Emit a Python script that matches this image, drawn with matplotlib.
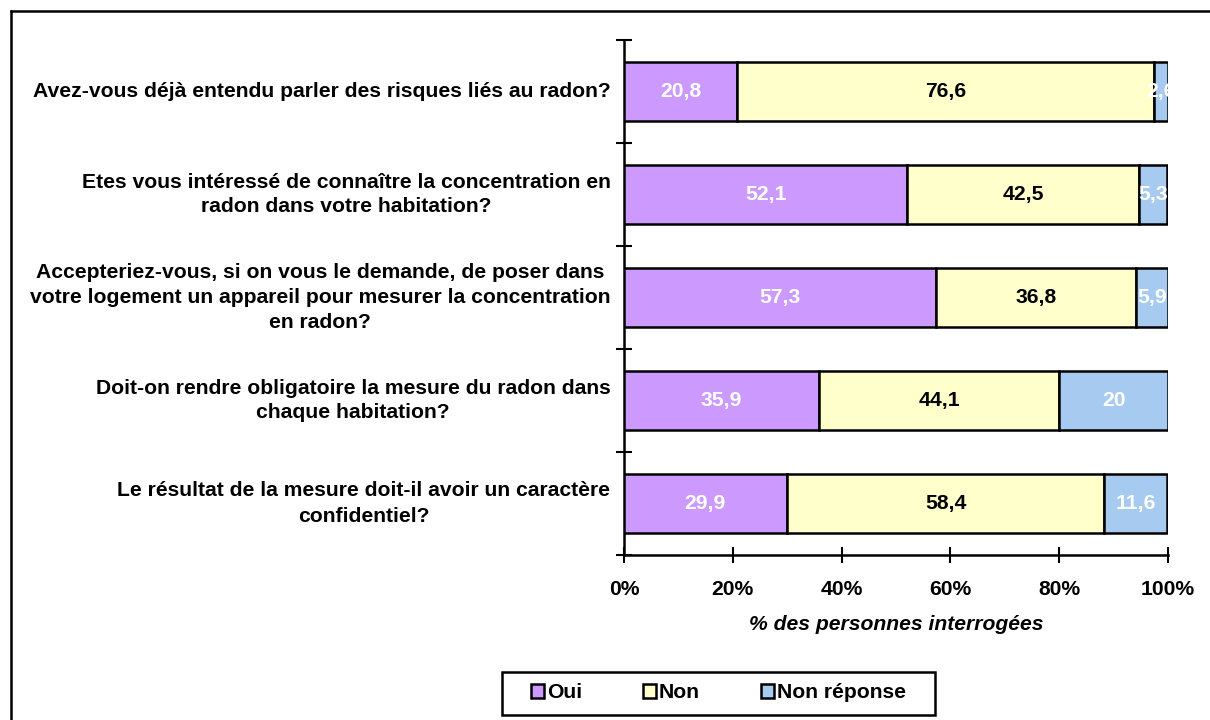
import matplotlib
matplotlib.use("Agg")
import matplotlib.pyplot as plt
from matplotlib.patches import Rectangle
from matplotlib.lines import Line2D

plt.rcParams['font.family'] = ['Liberation Sans', 'DejaVu Sans']

questions = [
    "Avez-vous déjà entendu parler des risques liés au radon?",
    "Etes vous intéressé de connaître la concentration en\nradon dans votre habitation?",
    "Accepteriez-vous, si on vous le demande, de poser dans\nvotre logement un appareil pour mesurer la concentration\nen radon?",
    "Doit-on rendre obligatoire la mesure du radon dans\nchaque habitation?",
    "Le résultat de la mesure doit-il avoir un caractère\nconfidentiel?",
]
oui = [20.8, 52.1, 57.3, 35.9, 29.9]
non = [76.6, 42.5, 36.8, 44.1, 58.4]
non_rep = [2.6, 5.3, 5.9, 20, 11.6]
series_names = ["Oui", "Non", "Non réponse"]
colors = ["#CC99FF", "#FFFFCC", "#A6CAF0"]
text_colors = ["white", "black", "white"]
xticks = [0, 20, 40, 60, 80, 100]
xtick_labels = ["0%", "20%", "40%", "60%", "80%", "100%"]

FS = 15.2
W, H = 1210, 720
fig = plt.figure(figsize=(W / 100, H / 100), dpi=100)
ax = fig.add_axes([624 / W, 1 - 555 / H, (1168 - 624) / W, (555 - 40) / H])

n = len(questions)
ypos = list(range(n))
left = [0.0] * n
for vals, col, tc in zip([oui, non, non_rep], colors, text_colors):
    ax.barh(ypos, vals, left=left, height=0.565, color=col, edgecolor="black",
            linewidth=1.8, zorder=3)
    for y, v, l in zip(ypos, vals, left):
        ax.text(l + v / 2, y, f"{v:g}".replace(".", ","), ha="center", va="center",
                color=tc, fontsize=FS, fontweight="bold", zorder=4, clip_on=True)
    left = [a + b for a, b in zip(left, vals)]

ax.set_xlim(0, 100)
ax.set_ylim(n - 0.5, -0.5)
ax.set_yticks([i - 0.5 for i in range(n + 1)])
ax.set_yticklabels([])
ax.tick_params(axis="y", length=11, width=1.5, direction="inout")
ax.tick_params(axis="x", length=11.5, width=1.5, direction="inout", pad=12.5)
ax.set_xticks(xticks)
ax.set_xticklabels(xtick_labels, fontsize=FS, fontweight="bold")
for s in ["top", "right"]:
    ax.spines[s].set_visible(False)
for s in ["left", "bottom"]:
    ax.spines[s].set_linewidth(1.8)
ax.set_xlabel("% des personnes interrogées", fontsize=FS, fontweight="bold",
              fontstyle="italic", labelpad=11)

for y, q in zip(ypos, questions):
    ax.text(-0.025, y, q, transform=ax.get_yaxis_transform(), ha="right",
            va="center", multialignment="center", fontsize=FS,
            fontweight="bold", linespacing=1.4)

# legend
handles = [Rectangle((0, 0), 1, 1, facecolor=c, edgecolor="black", linewidth=1.8)
           for c in colors]
leg = fig.legend(handles, series_names, loc="center",
                 bbox_to_anchor=((502 + 935) / 2 / W, 1 - 693 / H),
                 ncol=3, frameon=False, prop={"size": FS, "weight": "bold"},
                 handlelength=0.6, handleheight=0.6, handletextpad=0.15,
                 columnspacing=2.9, borderpad=0.45, borderaxespad=0)
fig.add_artist(Rectangle((502 / W, 1 - 715 / H), (935 - 502) / W, 43 / H,
                         transform=fig.transFigure, facecolor="none",
                         edgecolor="black", linewidth=1.8))

# outer frame (top and left visible)
fig.add_artist(Line2D([11 / W, 1.0], [1 - 11 / H, 1 - 11 / H], color="black",
                      linewidth=1.8, transform=fig.transFigure))
fig.add_artist(Line2D([11 / W, 11 / W], [0, 1 - 11 / H], color="black",
                      linewidth=1.8, transform=fig.transFigure))

fig.savefig("out.png", dpi=100, facecolor="white")
